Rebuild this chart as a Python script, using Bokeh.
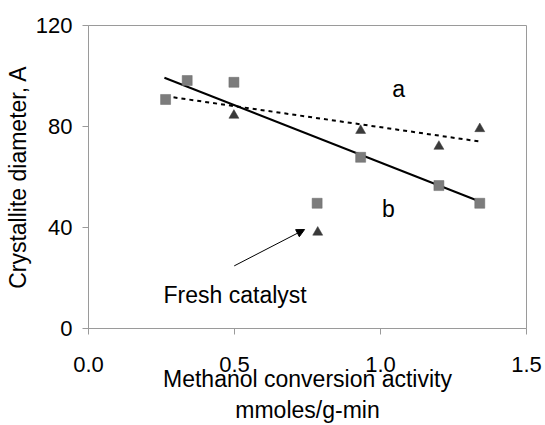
from bokeh.plotting import figure
from bokeh.models import FixedTicker, CustomJSTickFormatter, Label, Arrow, NormalHead
from bokeh.embed import file_html
from bokeh.resources import INLINE

# Methanol conversion activity (mmoles/g-min) vs crystallite diameter (A)
square_x = [0.264, 0.338, 0.498, 0.932, 1.200, 1.340, 0.783]
square_y = [90.7, 98.2, 97.5, 67.8, 56.6, 49.6, 49.6]

triangle_x = [0.498, 0.932, 1.200, 1.340, 0.785]
triangle_y = [84.4, 78.4, 72.1, 79.1, 38.1]

# trend lines (end points)
trend_a_x = [0.264, 1.337]
trend_a_y = [92.0, 74.1]
trend_b_x = [0.260, 1.340]
trend_b_y = [99.3, 50.3]

x_ticks = [0.0, 0.5, 1.0, 1.5]
y_ticks = [0, 40, 80, 120]

x_title = "Methanol conversion activity\nmmoles/g-min"
y_title = "Crystallite diameter, A"

FONT = "Liberation Sans"

p = figure(width=545, height=425, x_range=(0, 1.5), y_range=(0, 120),
           output_backend="svg", toolbar_location=None,
           min_border_left=88, min_border_right=19, min_border_top=25,
           min_border_bottom=97)

p.grid.visible = False
p.outline_line_color = "#9a9a9a"
p.outline_line_width = 1
p.background_fill_color = "white"
p.border_fill_color = "white"

for ax in (p.xaxis[0], p.yaxis[0]):
    ax.axis_line_color = "#9a9a9a"
    ax.major_tick_line_color = "#9a9a9a"
    ax.minor_tick_line_color = None
    ax.major_tick_in = 0
    ax.major_tick_out = 6
    ax.major_label_text_font = FONT
    ax.major_label_text_font_size = "22px"
    ax.major_label_text_color = "black"
    ax.axis_label_text_font = FONT
    ax.axis_label_text_font_size = "23px"
    ax.axis_label_text_font_style = "normal"
    ax.axis_label_text_color = "black"

p.xaxis.ticker = FixedTicker(ticks=x_ticks)
p.xaxis.formatter = CustomJSTickFormatter(code="return tick.toFixed(1);")
p.xaxis.major_label_standoff = 22
p.xaxis.axis_label = x_title
p.xaxis.axis_label_standoff = -9
p.xaxis.axis_label_text_line_height = 1.2

p.yaxis.ticker = FixedTicker(ticks=y_ticks)
p.yaxis.major_label_standoff = 10
p.yaxis.axis_label = y_title
p.yaxis.axis_label_standoff = 2

# trend lines
p.line(trend_a_x, trend_a_y, line_color="black", line_width=2, line_dash="4 4")
p.line(trend_b_x, trend_b_y, line_color="black", line_width=2)

# data points
p.scatter(square_x, square_y, marker="square", size=10,
          fill_color="#7c7c7c", line_color="#6a6a6a", line_width=0.5)
p.scatter(triangle_x, triangle_y, marker="triangle", size=10,
          fill_color="#3a3a3a", line_color="#3a3a3a", line_width=0.5)

# series labels
p.add_layout(Label(x=1.062, y=95, text="a", text_font=FONT, text_font_size="23px",
                   text_color="black", text_align="center", text_baseline="middle"))
p.add_layout(Label(x=1.027, y=47.5, text="b", text_font=FONT, text_font_size="23px",
                   text_color="black", text_align="center", text_baseline="middle"))

# fresh catalyst callout
p.add_layout(Label(x=0.257, y=13.1, text="Fresh catalyst", text_font=FONT,
                   text_font_size="23px", text_color="black", text_align="left",
                   text_baseline="middle"))
p.add_layout(Arrow(x_start=0.499, y_start=24.8, x_end=0.740, y_end=39.2,
                   line_color="black", line_width=1,
                   end=NormalHead(size=8, fill_color="black", line_color="black")))

open("out.html", "w").write(file_html(p, INLINE))
